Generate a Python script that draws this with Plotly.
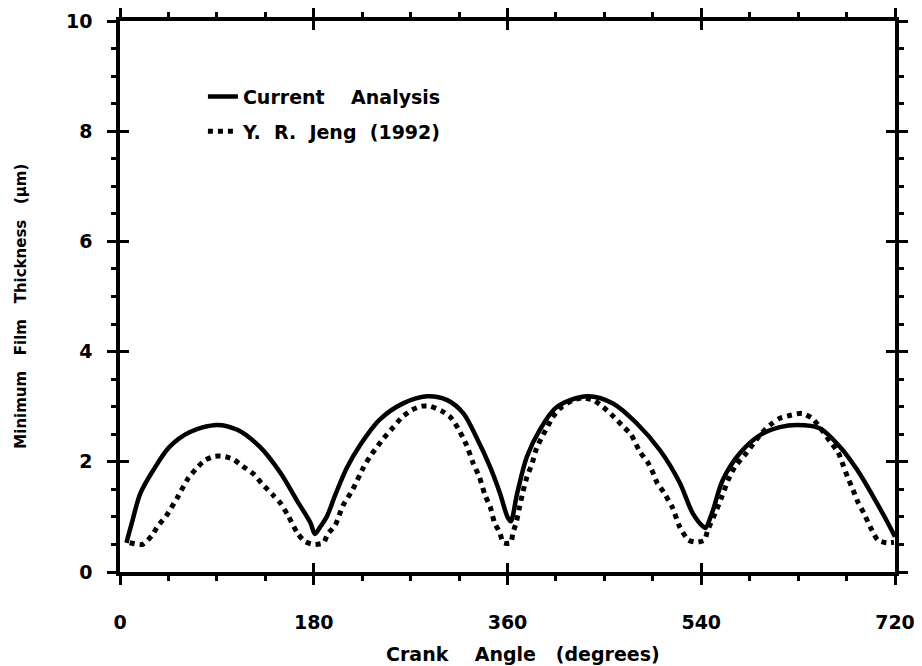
import plotly.graph_objects as go

# Current Analysis (solid)
cur_deg = [6, 11, 19, 31, 46, 65, 90, 109, 130, 149, 164, 177, 181, 186, 192, 200, 211, 223, 241, 263,
           285, 304, 319, 331, 344, 353, 360, 363, 369, 378, 390, 406, 434, 458, 480, 502, 520, 532,
           542, 544, 550, 560, 576, 595, 613, 629, 650, 669, 685, 700, 712, 720]
cur_h = [0.53, 0.89, 1.43, 1.85, 2.27, 2.54, 2.67, 2.58, 2.27, 1.8, 1.31, 0.89, 0.69, 0.82, 1.0, 1.4, 1.9,
         2.3, 2.76, 3.06, 3.19, 3.12, 2.88, 2.45, 1.9, 1.43, 1.0, 0.92, 1.43, 2.09, 2.58, 3.0, 3.19,
         3.06, 2.7, 2.2, 1.62, 1.07, 0.82, 0.8, 1.07, 1.67, 2.16, 2.49, 2.63, 2.67, 2.61, 2.27, 1.85,
         1.36, 0.94, 0.64]

# Y. R. Jeng (1992) (dotted)
jeng_deg = [9, 21, 30, 35, 43, 53, 63, 71, 79, 88, 96, 105, 114, 124, 132, 142, 149, 156, 165, 172, 180,
            189, 193, 200, 207, 216, 226, 232, 238, 245, 254, 262, 271, 280, 288, 299, 307, 314, 322,
            328, 334, 339, 344, 348, 353, 356, 363, 365, 368, 371, 374, 378, 383, 387, 392, 397, 402,
            410, 421, 430, 440, 449, 457, 466, 475, 483, 490, 495, 499, 505, 513, 520, 528, 536, 543,
            546, 553, 559, 565, 571, 582, 596, 606, 613, 624, 634, 643, 650, 660, 667, 671, 676, 681,
            686, 691, 697, 704, 712, 719]
jeng_h = [0.53, 0.5, 0.67, 0.83, 1.02, 1.34, 1.69, 1.88, 2.03, 2.1, 2.1, 2.05, 1.92, 1.78, 1.6, 1.4, 1.25,
          1.03, 0.7, 0.55, 0.5, 0.53, 0.69, 0.85, 1.2, 1.49, 1.89, 2.09, 2.25, 2.43, 2.63, 2.81, 2.94,
          3.01, 3.01, 2.92, 2.81, 2.61, 2.3, 1.98, 1.72, 1.4, 1.18, 0.89, 0.71, 0.53, 0.53, 0.71, 0.89,
          1.16, 1.43, 1.72, 1.98, 2.25, 2.45, 2.63, 2.81, 2.99, 3.12, 3.16, 3.12, 2.99, 2.85, 2.67,
          2.49, 2.18, 2.0, 1.81, 1.62, 1.45, 1.18, 0.82, 0.58, 0.54, 0.58, 0.76, 1.07, 1.36, 1.67, 1.9,
          2.16, 2.52, 2.7, 2.79, 2.85, 2.88, 2.79, 2.63, 2.36, 2.18, 1.98, 1.72, 1.49, 1.25, 1.07,
          0.82, 0.58, 0.53, 0.54]

x_ticks = [0, 180, 360, 540, 720]
y_ticks = [0, 2, 4, 6, 8, 10]

NB = "\u00a0"
WIDE = "DejaVu Sans, Verdana, sans-serif"

fig = go.Figure()
fig.add_trace(go.Scatter(x=cur_deg, y=cur_h, mode="lines",
                         name=f"<b>Current{NB*3} Analysis</b>", legendgroup="a",
                         line=dict(color="black", width=4.5, shape="spline", smoothing=0.9)))
fig.add_trace(go.Scatter(x=jeng_deg, y=jeng_h, mode="lines",
                         name=f"<b>Y.{NB} R.{NB} Jeng{NB} (1992)</b>", legendgroup="b",
                         line=dict(color="black", width=5, dash="5px,5px", shape="spline", smoothing=0.6)))
# invisible trace to activate overlay axes (inner halves of the major ticks)
fig.add_trace(go.Scatter(x=[0], y=[0], xaxis="x2", yaxis="y2", mode="markers",
                         marker=dict(opacity=0), showlegend=False, hoverinfo="skip"))

axis_font = dict(family=WIDE, size=19, color="black")
fig.update_layout(
    width=914, height=658,
    margin=dict(l=112, r=27, t=13, b=94),
    paper_bgcolor="white", plot_bgcolor="white",
    font=dict(family=WIDE, color="black"),
    showlegend=True,
    legend=dict(x=0.107, y=0.897, xanchor="left", yanchor="top", bgcolor="rgba(0,0,0,0)",
                font=dict(family=WIDE, size=19, color="black"), tracegroupgap=7),
    xaxis=dict(range=[0, 720], tickvals=x_ticks, ticktext=[f"<b>{v}</b>" for v in x_ticks],
               showgrid=False, zeroline=False, showline=True, linewidth=3.5, linecolor="black",
               mirror="allticks", ticks="outside", ticklen=9, tickwidth=3, tickcolor="black",
               ticklabelstandoff=21, tickfont=axis_font, automargin=False,
               minor=dict(dtick=45, tick0=0, ticks="outside", ticklen=5, tickwidth=2.5, tickcolor="black")),
    yaxis=dict(range=[0, 10], tickvals=y_ticks, ticktext=[f"<b>{v}</b>" for v in y_ticks],
               showgrid=False, zeroline=False, showline=True, linewidth=3.5, linecolor="black",
               mirror="allticks", ticks="outside", ticklen=9, tickwidth=3, tickcolor="black",
               ticklabelstandoff=11, tickfont=axis_font, automargin=False,
               minor=dict(dtick=0.5, tick0=0, ticks="outside", ticklen=5, tickwidth=2.5, tickcolor="black")),
    xaxis2=dict(range=[0, 720], overlaying="x", anchor="y", tickvals=x_ticks, showticklabels=False,
                ticks="inside", ticklen=9, tickwidth=3, tickcolor="black", mirror="ticks",
                showgrid=False, zeroline=False, showline=False, automargin=False),
    yaxis2=dict(range=[0, 10], overlaying="y", anchor="x", tickvals=y_ticks, showticklabels=False,
                ticks="inside", ticklen=9, tickwidth=3, tickcolor="black", mirror="ticks",
                showgrid=False, zeroline=False, showline=False, automargin=False),
    annotations=[
        dict(text=f"<b>Crank{NB*4}Angle{NB*3}(degrees)</b>", xref="paper", yref="paper",
             x=0.52, y=-0.148, xanchor="center", yanchor="middle", showarrow=False,
             font=dict(family=WIDE, size=19, color="black")),
        dict(text=f"<b>Minimum{NB*3}Film{NB*3}Thickness{NB*3}(μm)</b>", xref="paper", yref="paper",
             x=-0.128, y=0.483, xanchor="center", yanchor="middle", showarrow=False, textangle=-90,
             font=dict(family=WIDE, size=15, color="black")),
    ],
)

fig.write_html("out.html")
